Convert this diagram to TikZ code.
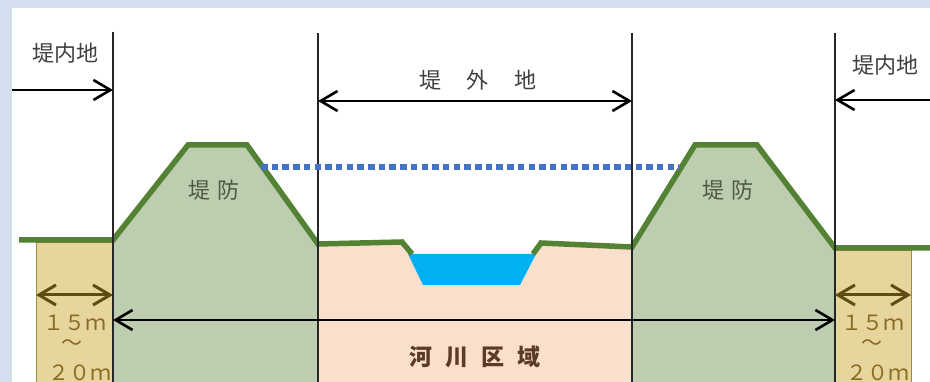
\documentclass[tikz,border=0pt]{standalone}
\usepackage{fontspec}
\newfontfamily\jp{Noto Sans CJK JP}
\usetikzlibrary{arrows.meta}
\definecolor{bgblue}{HTML}{D3DEEF}
\definecolor{dikefill}{HTML}{BCCDB0}
\definecolor{dikegreen}{HTML}{548235}
\definecolor{pinkfill}{HTML}{FADFCC}
\definecolor{waterblue}{HTML}{00B0F0}
\definecolor{yellowfill}{HTML}{E6D59C}
\definecolor{yellowedge}{HTML}{A08C3C}
\definecolor{brownarrow}{HTML}{5F4B14}
\definecolor{labeltext}{HTML}{404040}
\definecolor{diketext}{HTML}{4E5A45}
\definecolor{rivertext}{HTML}{5B3B28}
\definecolor{widthtext}{HTML}{8A6B22}
\definecolor{floodblue}{HTML}{4472C4}
\begin{document}
\begin{tikzpicture}[x=1pt,y=-1pt,
  barb/.tip={Straight Barb[length=17pt,width=20pt]},
  ground/.style={line width=5.5pt,color=dikegreen,line join=miter},
  vline/.style={line width=1.3pt,black!85},
  dimarrow/.style={line width=2.6pt,black},
  widtharrow/.style={line width=3pt,brownarrow},
  ybox/.style={fill=yellowfill,draw=yellowedge,line width=0.8pt},
  lbl/.style={inner sep=0pt,anchor=center,font=\jp\fontsize{22}{22}\selectfont,text=labeltext},
  dikelbl/.style={inner sep=0pt,anchor=center,font=\jp\fontsize{22}{22}\selectfont,text=diketext},
  widthlbl/.style={inner sep=0pt,anchor=center,font=\jp\fontsize{21}{21}\selectfont,text=widthtext},
  riverlbl/.style={inner sep=0pt,anchor=center,font=\jp\bfseries\fontsize{23}{23}\selectfont,text=rivertext},
  flood/.style={line width=6pt,floodblue,dash pattern=on 6.5pt off 4.2pt}
]
\useasboundingbox (0,0) rectangle (930,382);
\fill[bgblue] (0,0) rectangle (930,382);
\fill[white] (12,8) rectangle (930,382);

% ground profile points
\coordinate (gL0) at (19,240);
\coordinate (dL1) at (113,240);
\coordinate (dL2) at (188,145);
\coordinate (dL3) at (247,145);
\coordinate (dL4) at (318,244);
\coordinate (r1) at (402,242);
\coordinate (r2) at (412,254);
\coordinate (r3) at (533,254);
\coordinate (r4) at (541,243);
\coordinate (dR1) at (632,247);
\coordinate (dR2) at (695,145);
\coordinate (dR3) at (757,145);
\coordinate (dR4) at (835,248);
\coordinate (gR0) at (930,248);

% fills
\fill[dikefill] (dL1) -- (dL2) -- (dL3) -- (dL4) -- (318,382) -- (113,382) -- cycle;
\fill[dikefill] (dR1) -- (dR2) -- (dR3) -- (dR4) -- (835,382) -- (632,382) -- cycle;
\fill[pinkfill] (dL4) -- (r1) -- (r2) -- (r3) -- (r4) -- (dR1) -- (632,382) -- (318,382) -- cycle;
\fill[waterblue] (408,254) -- (536,254) -- (520,285) -- (423,285) -- cycle;
\path[ybox] (36,242) rectangle (113,383);
\path[ybox] (835,250) rectangle (911,383);

% ground line
\draw[ground] (gL0) -- (dL1) -- (dL2) -- (dL3) -- (dL4) -- (r1) -- (r2);
\draw[ground] (r3) -- (r4) -- (dR1) -- (dR2) -- (dR3) -- (dR4) -- (gR0);

% vertical boundary lines
\coordinate (v1t) at (113,32);  \coordinate (v1b) at (113,382);
\coordinate (v2t) at (318,33);  \coordinate (v2b) at (318,382);
\coordinate (v3t) at (632,33);  \coordinate (v3b) at (632,382);
\coordinate (v4t) at (835,33);  \coordinate (v4b) at (835,382);
\draw[vline] (v1t) -- (v1b);
\draw[vline] (v2t) -- (v2b);
\draw[vline] (v3t) -- (v3b);
\draw[vline] (v4t) -- (v4b);

% flood level
\coordinate (fl1) at (261,167);
\coordinate (fl2) at (679,167);
\draw[flood] (fl1) -- (fl2);

% dimension arrows
\coordinate (a1s) at (12,90);   \coordinate (a1e) at (113,90);
\coordinate (a2s) at (930,100); \coordinate (a2e) at (835,100);
\coordinate (a3s) at (318,101); \coordinate (a3e) at (632,101);
\coordinate (a4s) at (113,320); \coordinate (a4e) at (835,320);
\coordinate (w1s) at (36,295);  \coordinate (w1e) at (113,295);
\coordinate (w2s) at (835,295); \coordinate (w2e) at (911,295);
\draw[dimarrow,-barb] (a1s) -- (a1e);
\draw[dimarrow,-barb] (a2s) -- (a2e);
\draw[dimarrow,barb-barb] (a3s) -- (a3e);
\draw[dimarrow,barb-barb] (a4s) -- (a4e);
\draw[widtharrow,barb-barb] (w1s) -- (w1e);
\draw[widtharrow,barb-barb] (w2s) -- (w2e);

% labels
\node[lbl] (tnL) at (65,53) {堤内地};
\node[lbl] (tnR) at (885,65) {堤内地};
\node[lbl] (tg) at (478,80) {堤\hspace{26pt}外\hspace{26pt}地};
\node[dikelbl] (tdL) at (214,190) {堤\hspace{8pt}防};
\node[dikelbl] (tdR) at (728,190) {堤\hspace{8pt}防};
\node[riverlbl] (tr) at (475,357) {河\hspace{13pt}川\hspace{13pt}区\hspace{13pt}域};
\node[widthlbl] (wL1) at (75,323) {１５ｍ};
\node[widthlbl] (wL2) at (72,345) {～};
\node[widthlbl] (wL3) at (80,373) {２０ｍ};
\node[widthlbl] (wR1) at (873,323) {１５ｍ};
\node[widthlbl] (wR2) at (872,345) {～};
\node[widthlbl] (wR3) at (878,373) {２０ｍ};
\end{tikzpicture}
\end{document}
